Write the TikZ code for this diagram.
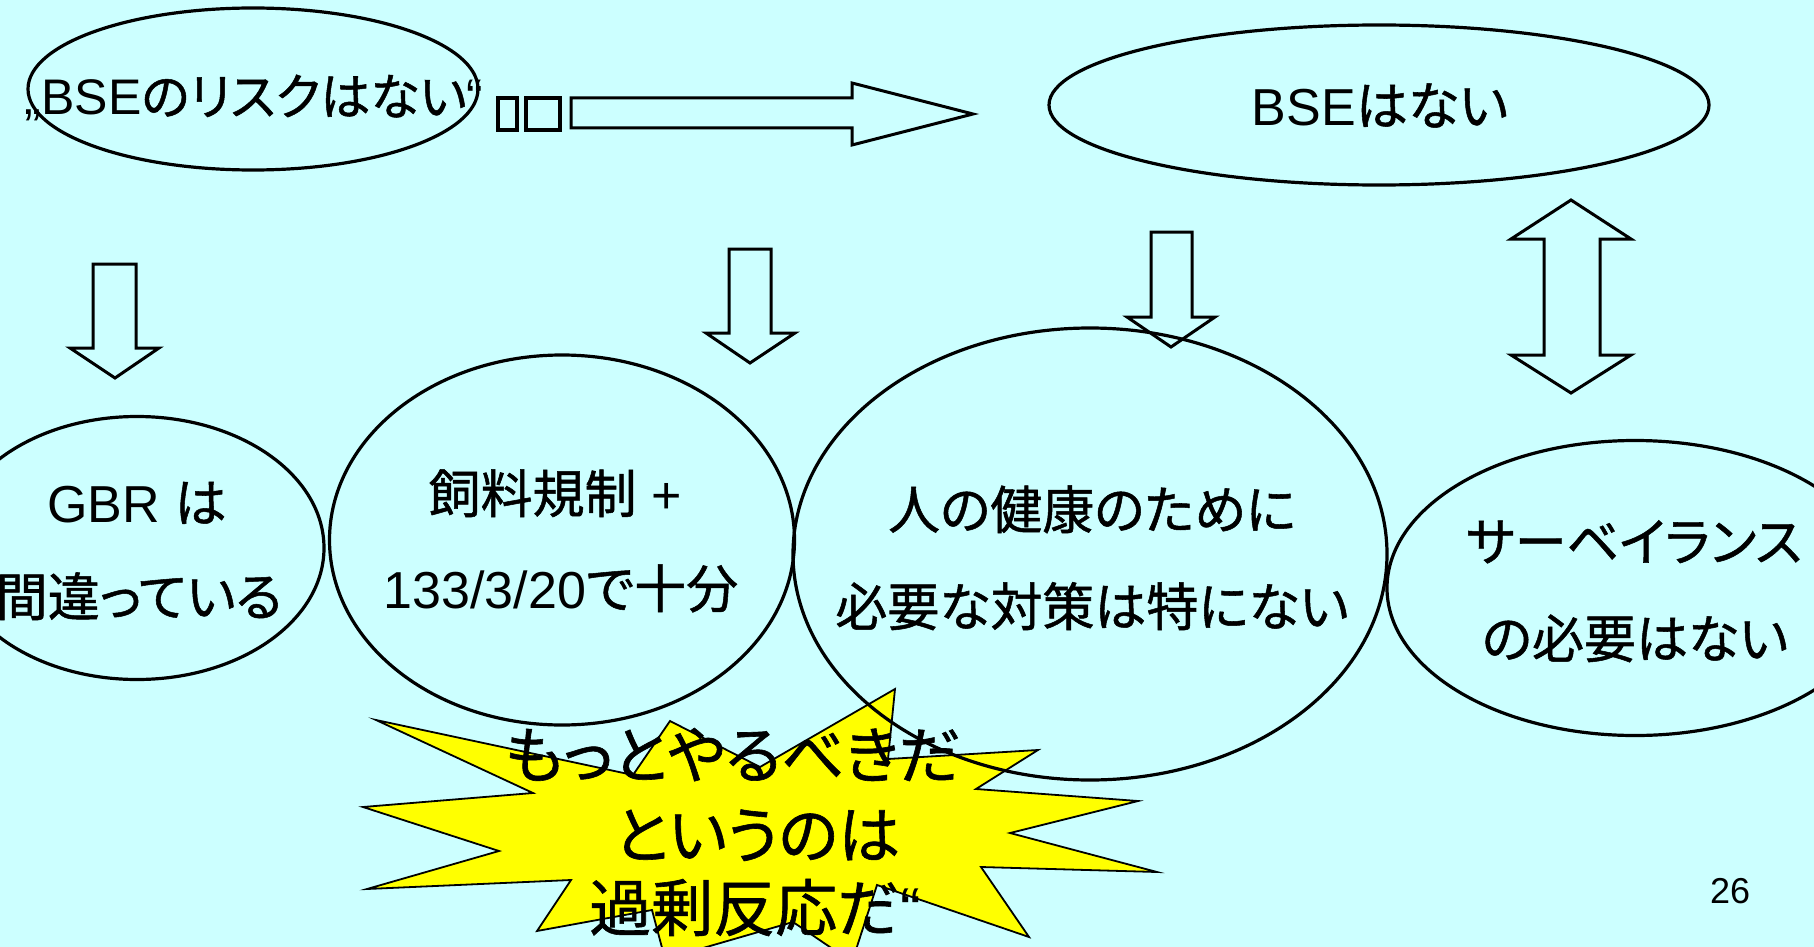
\documentclass[tikz,border=0pt]{standalone}
\usepackage{fontspec}
\setmainfont[RawFeature=+palt, FakeBold=1]{Noto Sans CJK JP}
\newfontfamily\ar{Liberation Sans}
\usetikzlibrary{shapes.geometric}
\definecolor{bgc}{RGB}{204,255,255}
\definecolor{stary}{RGB}{255,255,0}
\begin{document}
\begin{tikzpicture}[x=1pt,y=-1pt,
  oval/.style={draw, line width=3.2pt, ellipse, inner sep=0pt, outer sep=0pt},
  blk/.style={draw, line width=3pt, line join=miter},
  tofu/.style={draw, line width=3.5pt},
  lbl/.style={inner sep=0pt, anchor=base, font=\fontsize{52}{60}\selectfont},
  big/.style={inner sep=0pt, anchor=base, font=\fontsize{62}{70}\selectfont},
]
\fill[bgc] (0,0) rectangle (1814,947);
\useasboundingbox (0,0) rectangle (1814,947);
\clip (0,0) rectangle (1814,947);

% starburst
\draw[fill=stary, line width=1.8pt, line join=miter]
  (376,720) -- (633,775) -- (670,721) -- (760,767) -- (895,689) -- (888,759)
  -- (1038,750) -- (976,789) -- (1138,801) -- (1010,833) -- (1157,872)
  -- (981,867) -- (1029,937) -- (877,885) -- (852,962) -- (793,922)
  -- (665,959) -- (652,910) -- (537,931) -- (571,880) -- (367,889)
  -- (499,851) -- (363,807) -- (533,793) -- cycle;

% ellipses
\node[oval, minimum width=450pt, minimum height=162pt] (e1) at (253,89) {};
\node[oval, minimum width=660pt, minimum height=160pt] (e2) at (1379,105) {};
\node[oval, minimum width=374pt, minimum height=263pt] (e3) at (137,548) {};
\node[oval, minimum width=465pt, minimum height=370pt] (e4) at (562,540) {};
\node[oval, minimum width=594pt, minimum height=452pt] (e5) at (1090,554) {};
\node[oval, minimum width=496pt, minimum height=295pt] (e6) at (1635,588) {};

% tofu boxes
\draw[tofu] (498,98) rectangle (517,130);
\draw[tofu] (526,98) rectangle (560,130);

% block arrows
\draw[blk] (571,98) -- (852,98) -- (852,83) -- (973,114) -- (852,145) -- (852,128) -- (571,128) -- cycle;
\draw[blk] (93,264) -- (136,264) -- (136,348) -- (159,348) -- (115,378) -- (70,348) -- (93,348) -- cycle;
\draw[blk] (729,249) -- (771,249) -- (771,333) -- (795,333) -- (750,363) -- (706,333) -- (729,333) -- cycle;
\draw[blk] (1151,232) -- (1192,232) -- (1192,317) -- (1215,317) -- (1171,347) -- (1127,317) -- (1151,317) -- cycle;
\draw[blk] (1571,200) -- (1631,239) -- (1600,239) -- (1600,355) -- (1631,355) -- (1571,393)
  -- (1511,355) -- (1544,355) -- (1544,239) -- (1511,239) -- cycle;

% texts
\node[lbl, font=\fontsize{50}{58}\selectfont] (t1) at (254,115) {{\ar „BSE}のリスクはない{\ar “}};
\node[lbl] (t2) at (1380,125) {{\ar BSE}はない};
\node[lbl] (t3) at (137,522) {{\ar GBR }は};
\node[lbl] (t4) at (139,616) {間違っている};
\node[lbl] (t5) at (555,513) {飼料規制{\ar\ +}};
\node[lbl] (t6) at (561,608) {{\ar 133/3/20}で十分};
\node[lbl] (t7) at (1092,529) {人の健康のために};
\node[lbl] (t8) at (1092,626) {必要な対策は特にない};
\node[lbl] (t9) at (1634,561) {サーベイランス};
\node[lbl] (t10) at (1635,658) {の必要はない};
\node[big] (s1) at (733,778) {もっとやるべきだ};
\node[big] (s2) at (757,858) {というのは};
\node[big] (s3) at (755,931) {過剰反応だ{\ar “}};
\node[inner sep=0pt, anchor=base, font=\ar\fontsize{36}{40}\selectfont] (pg) at (1730,903) {26};
\end{tikzpicture}
\end{document}
